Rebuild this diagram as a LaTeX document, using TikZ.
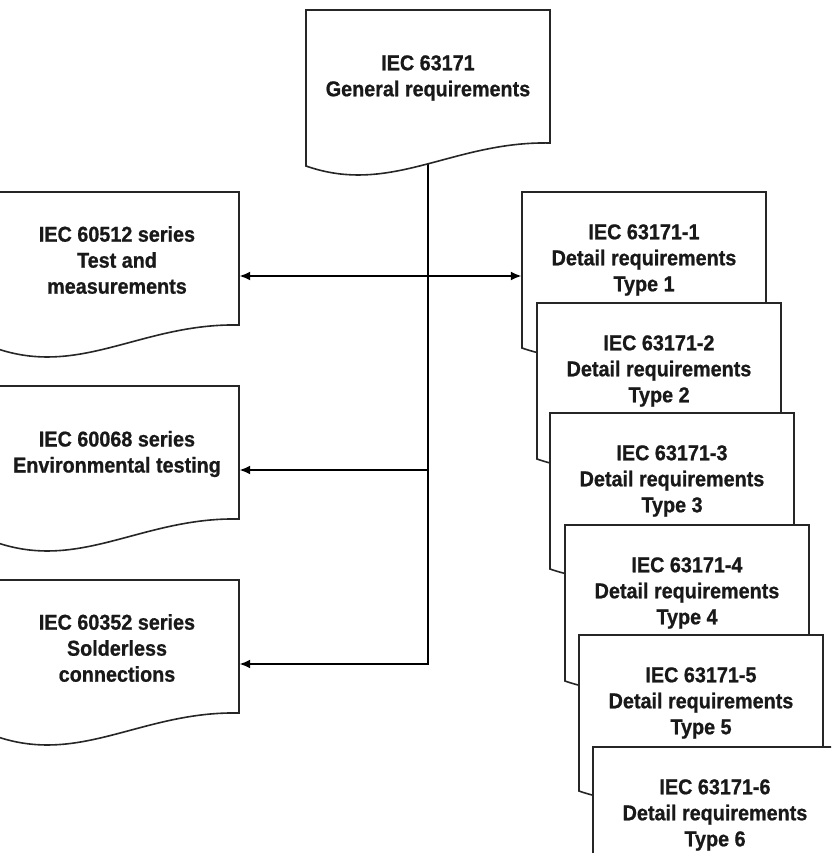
\documentclass[tikz,border=0pt]{standalone}
\usepackage{fontspec}
\setmainfont{Liberation Sans}[FakeStretch=0.92, BoldFeatures={FakeBold=0.8}]
\usetikzlibrary{arrows.meta,backgrounds}
\tikzset{
  docshape/.style={draw=black!85, line width=1.6pt, fill=white, line join=miter},
  docarea/.style={rectangle, minimum width=244pt, minimum height=168pt, inner sep=0pt},
  doctext/.style={align=center, inner sep=0pt, font=\fontsize{21.5}{26}\selectfont\bfseries, text=black!90},
  conn/.style={draw=black, line width=2.4pt},
  tip/.style={Latex[length=11pt,width=9pt]}
}
\newcommand\docbox[4]{%
  \path[docshape] (#2,#3+156) .. controls (#2+85.4,#3+186) and (#2+146.4,#3+131) .. (#2+244,#3+133) -- (#2+244,#3) -- (#2,#3) -- cycle;
  \node[docarea] (#1) at (#2+122,#3+84) {};
  \node[doctext] (#1-t) at (#2+122,#3+68) {#4};
}
\begin{document}
\begin{tikzpicture}[x={(1pt,0)}, y={(0,-1pt)}]
\useasboundingbox (0,0) rectangle (831,853);
\clip (0,0) rectangle (831,853);

\docbox{T}{306}{10}{IEC 63171\\General requirements}
\docbox{L1}{-5}{192}{IEC 60512 series\\Test and\\measurements}
\docbox{L2}{-5}{386}{IEC 60068 series\\Environmental testing}
\docbox{L3}{-5}{580}{IEC 60352 series\\Solderless\\connections}
\docbox{R1}{522}{192}{IEC 63171-1\\Detail requirements\\Type 1}
\docbox{R2}{537}{303}{IEC 63171-2\\Detail requirements\\Type 2}
\docbox{R3}{550}{413}{IEC 63171-3\\Detail requirements\\Type 3}
\docbox{R4}{565}{525}{IEC 63171-4\\Detail requirements\\Type 4}
\docbox{R5}{579}{635}{IEC 63171-5\\Detail requirements\\Type 5}
\docbox{R6}{593}{747}{IEC 63171-6\\Detail requirements\\Type 6}

\begin{pgfonlayer}{background}
\fill[white] (0,0) rectangle (831,853);
\draw[conn, {Latex[length=11pt,width=9pt]}-{Latex[length=11pt,width=9pt]}] (L1.east) -- (R1.west);
\draw[conn, -{Latex[length=11pt,width=9pt]}] (T.center) |- (L3.east);
\draw[conn, -{Latex[length=11pt,width=9pt]}] (T.center |- L2.east) -- (L2.east);
\end{pgfonlayer}
\end{tikzpicture}
\end{document}
